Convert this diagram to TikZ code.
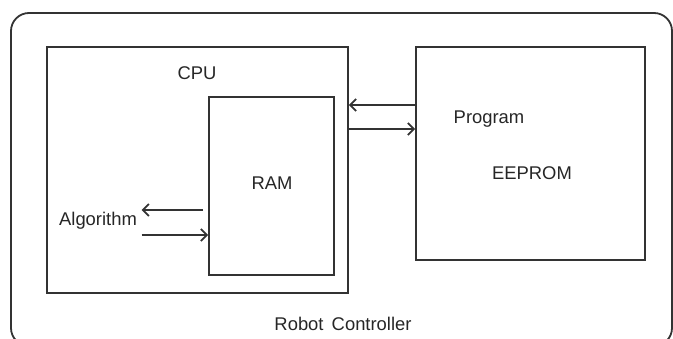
\documentclass[tikz,border=0pt]{standalone}
\usepackage{fontspec}
\setmainfont{Liberation Sans}
\usepackage{xcolor}
\usepackage{tikz}
\usetikzlibrary{arrows.meta}

\begin{document}
\begin{tikzpicture}[x=0.5pt,y=0.5pt,line width=0.9pt,draw=black!80,
    box/.style={draw, rectangle, inner sep=0pt},
    lbl/.style={font=\fontsize{9.2}{11}\selectfont, text=black!85, inner sep=0pt},
    flow/.style={-{Straight Barb[length=3pt,width=6pt]}}]
        \useasboundingbox (0,0) rectangle (673,338);
        \node[box, rounded corners=9pt, minimum width=330.5pt, minimum height=166.5pt] (ctrl) at (341.5,158.5){};
        \node[box, minimum width=150.5pt, minimum height=123pt] (cpu) at (197.5,168){};
        \node[box, minimum width=62.5pt, minimum height=89pt] (ram) at (271.5,152){};
        \node[box, minimum width=114.5pt, minimum height=106.5pt] (eeprom) at (530.5,184.5){};
        \node[lbl] (cpulbl) at (197,265){CPU};
        \node[lbl] (ramlbl) at (272,155){RAM};
        \node[lbl] (proglbl) at (489,219){Program};
        \node[lbl] (eepromlbl) at (532,165){EEPROM};
        \node[lbl] (alglbl) at (98,117){Algorithm};
        \node[lbl] (ctrllbl) at (343,14){Robot\, Controller};
        % CPU <-> EEPROM
        \draw[flow] (eeprom.west |- 0,233) -- (cpu.east |- 0,233);
        \draw[flow] (cpu.east |- 0,209) -- (eeprom.west |- 0,209);
        % RAM <-> algorithm
        \coordinate (algout) at (141.6,128);
        \coordinate (algin) at (141.6,103);
        \draw[flow] ([xshift=-2.5pt]ram.west |- algout) -- (algout);
        \draw[flow] (algin) -- (ram.west |- algin);
    \end{tikzpicture}
\end{document}
